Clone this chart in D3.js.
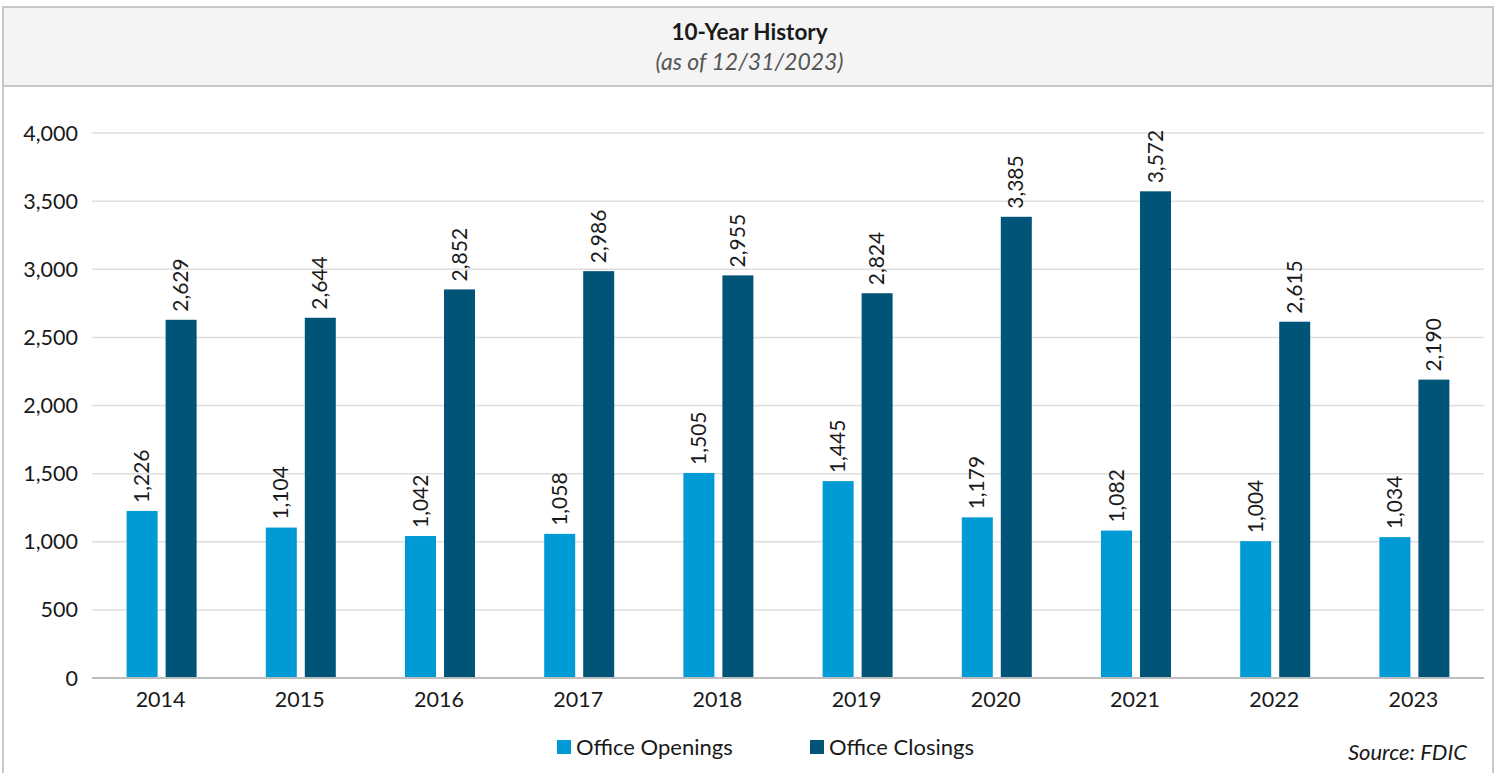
<!DOCTYPE html>
<html>
<head>
  <style>
    body { margin: 0; background: #fff; }
    text { font-family: Lato, "Noto Sans", sans-serif; fill: #1a1a1a; }
    .grid line { stroke: #dedede; stroke-width: 1.5px; }
  </style>
</head>
<body>
  <script src="https://d3js.org/d3.v7.min.js"></script>
  <script>
    var years = ["2014", "2015", "2016", "2017", "2018", "2019", "2020", "2021", "2022", "2023"];
    var openings = [1226, 1104, 1042, 1058, 1505, 1445, 1179, 1082, 1004, 1034];
    var closings = [2629, 2644, 2852, 2986, 2955, 2824, 3385, 3572, 2615, 2190];
    var seriesNames = ["Office Openings", "Office Closings"];
    var seriesColors = ["#009ad4", "#005478"];
    var yTicks = [0, 500, 1000, 1500, 2000, 2500, 3000, 3500, 4000];

    var width = 1499, height = 773;
    var svg = d3.select("body").append("svg")
        .attr("width", width)
        .attr("height", height);

    // frame + header
    svg.append("rect")
        .attr("x", 3).attr("y", 7).attr("width", 1490).attr("height", 800)
        .attr("fill", "#fff").attr("stroke", "#c8c8c8").attr("stroke-width", 2);
    svg.append("rect")
        .attr("x", 3).attr("y", 7).attr("width", 1490).attr("height", 79)
        .attr("fill", "#f4f4f4").attr("stroke", "#c8c8c8").attr("stroke-width", 2);

    svg.append("text")
        .attr("x", width / 2).attr("y", 40)
        .attr("text-anchor", "middle")
        .style("font-weight", "bold").style("font-size", "22.5px")
        .text("10-Year History");
    svg.append("text")
        .attr("x", width / 2).attr("y", 70)
        .attr("text-anchor", "middle")
        .style("font-style", "italic").style("font-size", "23px")
        .style("fill", "#555")
        .text("(as of 12/31/2023)");

    var x = d3.scaleBand().domain(years).range([92, 1484]);
    var y = d3.scaleLinear().domain([0, 4000]).range([678, 133]);

    svg.append("g").attr("class", "grid")
        .selectAll("line").data(yTicks.slice(1)).join("line")
        .attr("x1", 92).attr("x2", 1484)
        .attr("y1", d => y(d)).attr("y2", d => y(d));

    svg.append("g").selectAll("text").data(yTicks).join("text")
        .attr("x", 78).attr("y", d => y(d))
        .attr("dy", "0.35em")
        .attr("text-anchor", "end")
        .style("font-size", "21.5px")
        .text(d => d3.format(",")(d));

    var barW = 31, gap = 8;
    var rows = years.map((yr, i) => ({year: yr, vals: [openings[i], closings[i]]}));

    var groups = svg.append("g").selectAll("g").data(rows).join("g")
        .attr("transform", d => "translate(" + (x(d.year) + x.bandwidth() / 2) + ",0)");

    groups.selectAll("rect").data(d => d.vals).join("rect")
        .attr("x", (d, i) => i === 0 ? -gap / 2 - barW : gap / 2)
        .attr("width", barW)
        .attr("y", d => y(d))
        .attr("height", d => y(0) - y(d))
        .attr("fill", (d, i) => seriesColors[i]);

    groups.selectAll("text.lbl").data(d => d.vals).join("text")
        .attr("class", "lbl")
        .attr("transform", (d, i) => {
          var cx = i === 0 ? -gap / 2 - barW / 2 : gap / 2 + barW / 2;
          return "translate(" + (cx + 7) + "," + (y(d) - 8) + ") rotate(-90)";
        })
        .style("font-size", "21px")
        .text(d => d3.format(",")(d));

    // x axis line
    svg.append("line")
        .attr("x1", 92).attr("x2", 1484)
        .attr("y1", y(0)).attr("y2", y(0))
        .attr("stroke", "#bdbdbd").attr("stroke-width", 2);

    svg.append("g").selectAll("text").data(years).join("text")
        .attr("x", d => x(d) + x.bandwidth() / 2 - 1)
        .attr("y", 707)
        .attr("text-anchor", "middle")
        .style("font-size", "21.5px")
        .text(d => d);

    // legend
    var legendX = [557, 810];
    var legend = svg.append("g").selectAll("g").data(seriesNames).join("g")
        .attr("transform", (d, i) => "translate(" + legendX[i] + ",740)");
    legend.append("rect")
        .attr("width", 14).attr("height", 14)
        .attr("fill", (d, i) => seriesColors[i]);
    legend.append("text")
        .attr("x", 19).attr("y", 7).attr("dy", "0.35em")
        .style("font-size", "22px")
        .text(d => d);

    svg.append("text")
        .attr("x", 1467).attr("y", 760)
        .attr("text-anchor", "end")
        .style("font-style", "italic").style("font-size", "22px")
        .text("Source: FDIC");
  </script>
</body>
</html>
